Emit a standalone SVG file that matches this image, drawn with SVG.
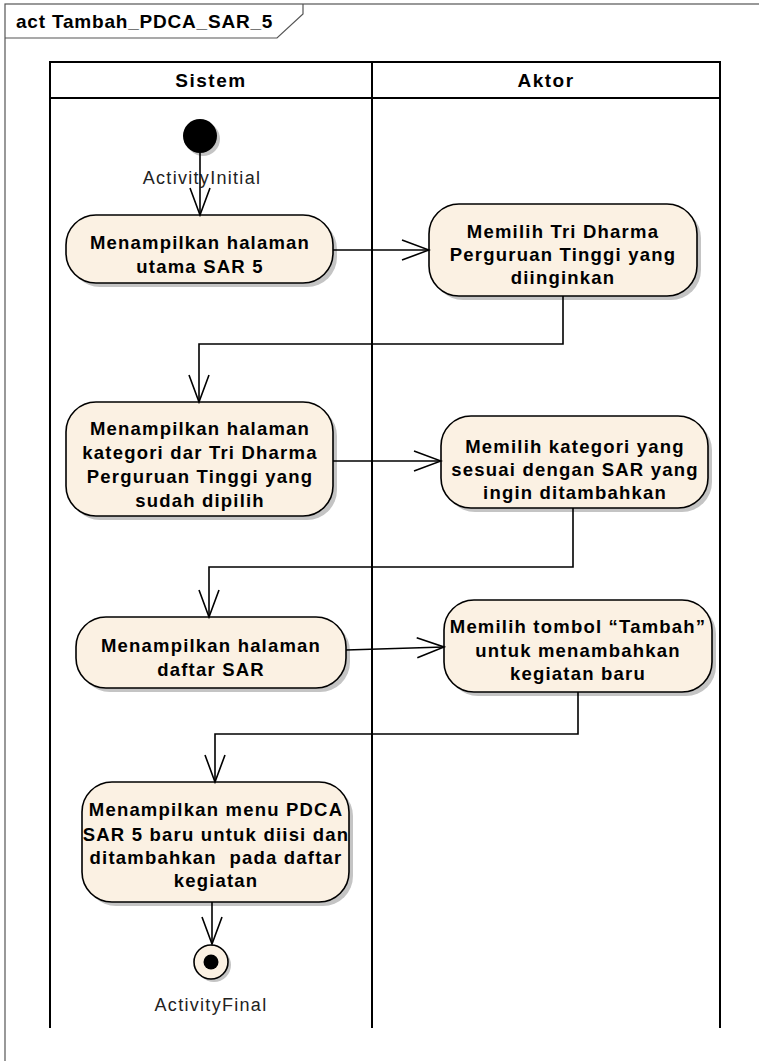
<svg xmlns="http://www.w3.org/2000/svg" width="759" height="1061" viewBox="0 0 759 1061">
<defs>
<style>
.frame{fill:none;stroke:#555;stroke-width:1.2}
.lane{fill:none;stroke:#000;stroke-width:2}
.node{fill:#FBF1E3;stroke:#000;stroke-width:1.6}
.shadow{fill:#C4C4C4;stroke:none}
.t{font-family:"Liberation Sans",Arial,sans-serif;font-size:18.5px;font-weight:bold;letter-spacing:1.2px;text-anchor:middle;fill:#000;white-space:pre}
.h{font-family:"Liberation Sans",Arial,sans-serif;font-size:19px;font-weight:bold;letter-spacing:1.5px;text-anchor:middle;fill:#000}
.lbl{font-family:"Liberation Sans",Arial,sans-serif;font-size:18px;letter-spacing:1.3px;text-anchor:middle;fill:#222}
.title{font-family:"Liberation Sans",Arial,sans-serif;font-size:19px;font-weight:bold;letter-spacing:0.8px;fill:#000}
.c{fill:none;stroke:#000;stroke-width:1.6}
</style>
<marker id="arr" viewBox="-30 -12 32 24" refX="0" refY="0" markerWidth="32" markerHeight="24" markerUnits="userSpaceOnUse" orient="auto">
<path d="M-27,-10 L0,0 L-27,10" fill="none" stroke="#000" stroke-width="1.6"/>
</marker>
</defs>
<rect width="759" height="1061" fill="#fff"/>

<g id="frame">
<rect class="frame" x="5" y="4" width="800" height="1100"/>
<path class="frame" d="M5,38 L277,38 L303,14 L303,4"/>
<text class="title" x="16" y="28">act Tambah_PDCA_SAR_5</text>
</g>

<g id="swimlanes">
<path class="lane" d="M50,1028 L50,62 L720,62 L720,1028 M372,62 L372,1028 M50,98 L720,98"/>
<text class="h" x="211" y="87">Sistem</text>
<text class="h" x="546" y="87">Aktor</text>
</g>

<g id="initial">
<circle class="shadow" cx="203" cy="139" r="17"/>
<circle cx="200" cy="136" r="17" fill="#000"/>
<text class="lbl" x="202" y="184">ActivityInitial</text>
</g>

<g id="n1">
<rect class="shadow" x="70" y="219" width="267" height="68" rx="30"/>
<rect class="node" x="66" y="215" width="267" height="68" rx="30"/>
<text class="t" x="200" y="249">Menampilkan halaman</text>
<text class="t" x="200" y="273">utama SAR 5</text>
</g>

<g id="n2">
<rect class="shadow" x="433" y="208" width="268" height="92" rx="30"/>
<rect class="node" x="429" y="204" width="268" height="92" rx="30"/>
<text class="t" x="563" y="238">Memilih Tri Dharma</text>
<text class="t" x="563" y="261">Perguruan Tinggi yang</text>
<text class="t" x="563" y="284">diinginkan</text>
</g>

<g id="n3">
<rect class="shadow" x="70" y="406" width="267" height="114" rx="30"/>
<rect class="node" x="66" y="402" width="267" height="114" rx="30"/>
<text class="t" x="200" y="435">Menampilkan halaman</text>
<text class="t" x="200" y="459">kategori dar Tri Dharma</text>
<text class="t" x="200" y="483">Perguruan Tinggi yang</text>
<text class="t" x="200" y="507">sudah dipilih</text>
</g>

<g id="n4">
<rect class="shadow" x="445" y="420" width="267" height="92" rx="30"/>
<rect class="node" x="441" y="416" width="267" height="92" rx="30"/>
<text class="t" x="575" y="453">Memilih kategori yang</text>
<text class="t" x="575" y="476">sesuai dengan SAR yang</text>
<text class="t" x="575" y="499">ingin ditambahkan</text>
</g>

<g id="n5">
<rect class="shadow" x="80" y="621" width="270" height="71" rx="30"/>
<rect class="node" x="76" y="617" width="270" height="71" rx="30"/>
<text class="t" x="211" y="652">Menampilkan halaman</text>
<text class="t" x="211" y="676">daftar SAR</text>
</g>

<g id="n6">
<rect class="shadow" x="448" y="604" width="268" height="92" rx="30"/>
<rect class="node" x="444" y="600" width="268" height="92" rx="30"/>
<text class="t" x="578" y="633">Memilih tombol “Tambah”</text>
<text class="t" x="578" y="657">untuk menambahkan</text>
<text class="t" x="578" y="680">kegiatan baru</text>
</g>

<g id="n7">
<rect class="shadow" x="86" y="786" width="267" height="120" rx="30"/>
<rect class="node" x="82" y="782" width="267" height="120" rx="30"/>
<text class="t" x="216" y="816">Menampilkan menu PDCA</text>
<text class="t" x="216" y="841">SAR 5 baru untuk diisi dan</text>
<text class="t" x="216" y="864">ditambahkan  pada daftar</text>
<text class="t" x="216" y="887">kegiatan</text>
</g>

<g id="final">
<circle class="shadow" cx="214" cy="965" r="17"/>
<circle cx="211" cy="962" r="17" fill="#FBF1E3" stroke="#000" stroke-width="1.6"/>
<circle cx="211" cy="962" r="7.5" fill="#000"/>
<text class="lbl" x="211" y="1011">ActivityFinal</text>
</g>

<g id="connectors">
<path class="c" marker-end="url(#arr)" d="M200,153 L200,215"/>
<path class="c" marker-end="url(#arr)" d="M333,250 L429,250"/>
<path class="c" marker-end="url(#arr)" d="M563,296 L563,344 L199,344 L199,402"/>
<path class="c" marker-end="url(#arr)" d="M333,461 L441,461"/>
<path class="c" marker-end="url(#arr)" d="M573,508 L573,567 L209,567 L209,617"/>
<path class="c" marker-end="url(#arr)" d="M346,650 L444,647"/>
<path class="c" marker-end="url(#arr)" d="M578,692 L578,734 L215,734 L215,782"/>
<path class="c" marker-end="url(#arr)" d="M212,902 L212,944"/>
</g>
</svg>
